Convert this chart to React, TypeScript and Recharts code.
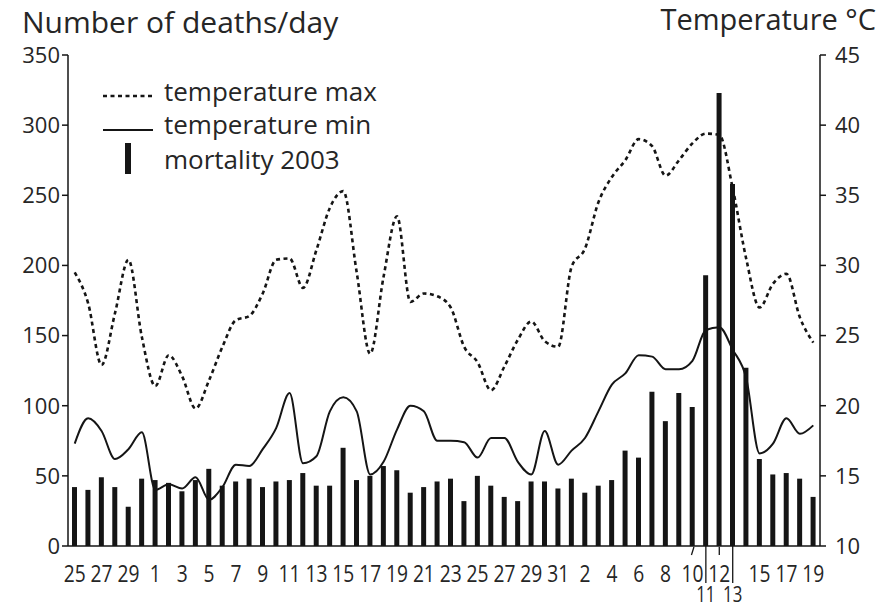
import React from 'react';
import { ComposedChart, Bar, Line, XAxis, YAxis } from 'recharts';

// Days from 25 June to 19 August 2003
const days = [
  '25', '26', '27', '28', '29', '30',
  '1', '2', '3', '4', '5', '6', '7', '8', '9', '10', '11', '12', '13', '14', '15', '16',
  '17', '18', '19', '20', '21', '22', '23', '24', '25', '26', '27', '28', '29', '30', '31',
  '1', '2', '3', '4', '5', '6', '7', '8', '9', '10', '11', '12', '13', '14', '15', '16',
  '17', '18', '19',
];

const xLabels = [
  '25', '', '27', '', '29', '',
  '1', '', '3', '', '5', '', '7', '', '9', '', '11', '', '13', '', '15', '',
  '17', '', '19', '', '21', '', '23', '', '25', '', '27', '', '29', '', '31',
  '', '2', '', '4', '', '6', '', '8', '', '10', '', '12', '', '', '15', '',
  '17', '', '19',
];

const xLabelsLower = [
  '', '', '', '', '', '',
  '', '', '', '', '', '', '', '', '', '', '', '', '', '', '', '',
  '', '', '', '', '', '', '', '', '', '', '', '', '', '', '',
  '', '', '', '', '', '', '', '', '', '', '11', '', '13', '', '', '',
  '', '', '',
];

const mortality = [
  42, 40, 49, 42, 28, 48,
  47, 45, 39, 47, 55, 43, 46, 48, 42, 46, 47, 52, 43, 43, 70, 47,
  50, 57, 54, 38, 42, 46, 48, 32, 50, 43, 35, 32, 46, 46, 41,
  48, 38, 43, 47, 68, 63, 110, 89, 109, 99, 193, 323, 258, 127, 62, 51,
  52, 48, 35,
];

const tempMax = [
  29.5, 27.3, 22.9, 26.6, 30.4, 24.9,
  21.4, 23.6, 22.1, 19.8, 21.8, 24.2, 26.1, 26.4, 28.0, 30.4, 30.5, 28.4, 31.1, 34.1, 35.3, 29.5,
  23.7, 29.2, 33.5, 27.4, 28.0, 27.8, 27.0, 24.2, 23.1, 21.1, 22.8, 24.7, 26.0, 24.6, 24.2,
  29.9, 31.2, 34.5, 36.3, 37.5, 39.0, 38.5, 36.4, 37.5, 38.7, 39.4, 39.3, 35.5, 30.5, 27.0, 28.7,
  29.4, 26.3, 24.5,
];

const tempMin = [
  17.3, 19.1, 18.2, 16.2, 16.9, 18.1,
  14.0, 14.4, 14.1, 14.9, 13.3, 14.2, 15.8, 15.7, 16.9, 18.4, 20.9, 15.9, 16.4, 19.6, 20.6, 19.6,
  15.1, 16.0, 18.3, 20.0, 19.6, 17.5, 17.5, 17.4, 16.3, 17.7, 17.7, 16.0, 15.1, 18.2, 15.8,
  16.8, 17.7, 19.6, 21.5, 22.3, 23.6, 23.5, 22.6, 22.6, 23.2, 25.4, 25.6, 24.0, 22.0, 16.6, 17.3,
  19.1, 18.0, 18.6,
];

const deathTicks = [0, 50, 100, 150, 200, 250, 300, 350];
const tempTicks = [10, 15, 20, 25, 30, 35, 40, 45];

const data = days.map((d, i) => ({
  key: String(i),
  day: d,
  mortality: mortality[i],
  tmax: tempMax[i],
  tmin: tempMin[i],
}));

const FONT = '"Open Sans", "Noto Sans", sans-serif';
const INK = '#151515';
const TEXT = '#262626';

const XTick = (props: any) => {
  const { x, y, payload } = props;
  const i = Number(payload.value);
  const top = xLabels[i];
  const low = xLabelsLower[i];
  const longLeader = low !== '';
  const shortLeader = i === 46 || i === 48;
  return (
    <g>
      {longLeader && <line x1={x} y1={y} x2={x} y2={y + 37} stroke={INK} strokeWidth={1.3} />}
      {shortLeader && (
        <line x1={i === 46 ? x + 1.5 : x} y1={y + 1} x2={i === 46 ? x - 1 : x} y2={y + 9} stroke={INK} strokeWidth={1.3} />
      )}
      {top !== '' && (
        <text
          transform={`translate(${x},${y + 36}) scale(0.8,1)`}
          textAnchor="middle"
          fontFamily={FONT}
          fontSize={24}
          fill={TEXT}
        >
          {top}
        </text>
      )}
      {low !== '' && (
        <text
          transform={`translate(${x},${y + 56}) scale(0.8,1)`}
          textAnchor="middle"
          fontFamily={FONT}
          fontSize={21}
          fill={TEXT}
        >
          {low}
        </text>
      )}
    </g>
  );
};

export default function App() {
  return (
    <div style={{ position: 'absolute', left: 0, top: 0, width: 883, height: 608, background: '#fff' }}>
      <ComposedChart
        width={883}
        height={608}
        data={data}
        margin={{ top: 55, right: 0, bottom: 0, left: 0 }}
        barCategoryGap={0}
      >
        <XAxis
          dataKey="key"
          interval={0}
          tick={<XTick />}
          tickLine={false}
          tickSize={0}
          tickMargin={0}
          height={62}
          axisLine={{ stroke: INK, strokeWidth: 1.5 }}
        />
        <YAxis
          yAxisId="deaths"
          domain={[0, 350]}
          ticks={deathTicks}
          width={68}
          tickSize={6}
          tickMargin={2}
          axisLine={{ stroke: INK, strokeWidth: 1.5 }}
          tickLine={{ stroke: INK, strokeWidth: 1.5 }}
          tick={{ fontFamily: FONT, fontSize: 22, fill: TEXT }}
          allowDataOverflow
        />
        <YAxis
          yAxisId="temp"
          orientation="right"
          domain={[10, 45]}
          ticks={tempTicks}
          width={63}
          tickSize={6}
          tickMargin={9}
          axisLine={{ stroke: INK, strokeWidth: 1.5 }}
          tickLine={{ stroke: INK, strokeWidth: 1.5 }}
          tick={{ fontFamily: FONT, fontSize: 22, fill: TEXT }}
          allowDataOverflow
        />
        <Bar yAxisId="deaths" dataKey="mortality" fill={INK} barSize={5} isAnimationActive={false} />
        <Line
          yAxisId="temp"
          type="monotone"
          dataKey="tmax"
          stroke={INK}
          strokeWidth={2.6}
          strokeDasharray="4 3.5"
          dot={false}
          activeDot={false}
          isAnimationActive={false}
        />
        <Line
          yAxisId="temp"
          type="monotone"
          dataKey="tmin"
          stroke={INK}
          strokeWidth={2}
          dot={false}
          activeDot={false}
          isAnimationActive={false}
        />
      </ComposedChart>
      <svg
        width={883}
        height={608}
        style={{ position: 'absolute', left: 0, top: 0, pointerEvents: 'none' }}
      >
        <text x={22} y={33} fontFamily={FONT} fontSize={30} fill={TEXT}>
          Number of deaths/day
        </text>
        <text x={876} y={30} textAnchor="end" fontFamily={FONT} fontSize={29} fill={TEXT}>
          Temperature °C
        </text>
        <line x1={103} y1={96} x2={153} y2={96} stroke={INK} strokeWidth={2.6} strokeDasharray="4 3.5" />
        <text x={164} y={101} fontFamily={FONT} fontSize={26} fill={TEXT}>
          temperature max
        </text>
        <line x1={103} y1={130} x2={153} y2={130} stroke={INK} strokeWidth={2} />
        <text x={164} y={134} fontFamily={FONT} fontSize={26} fill={TEXT}>
          temperature min
        </text>
        <rect x={125} y={143} width={6} height={31} fill={INK} />
        <text x={164} y={169} fontFamily={FONT} fontSize={26} fill={TEXT}>
          mortality 2003
        </text>
      </svg>
    </div>
  );
}
